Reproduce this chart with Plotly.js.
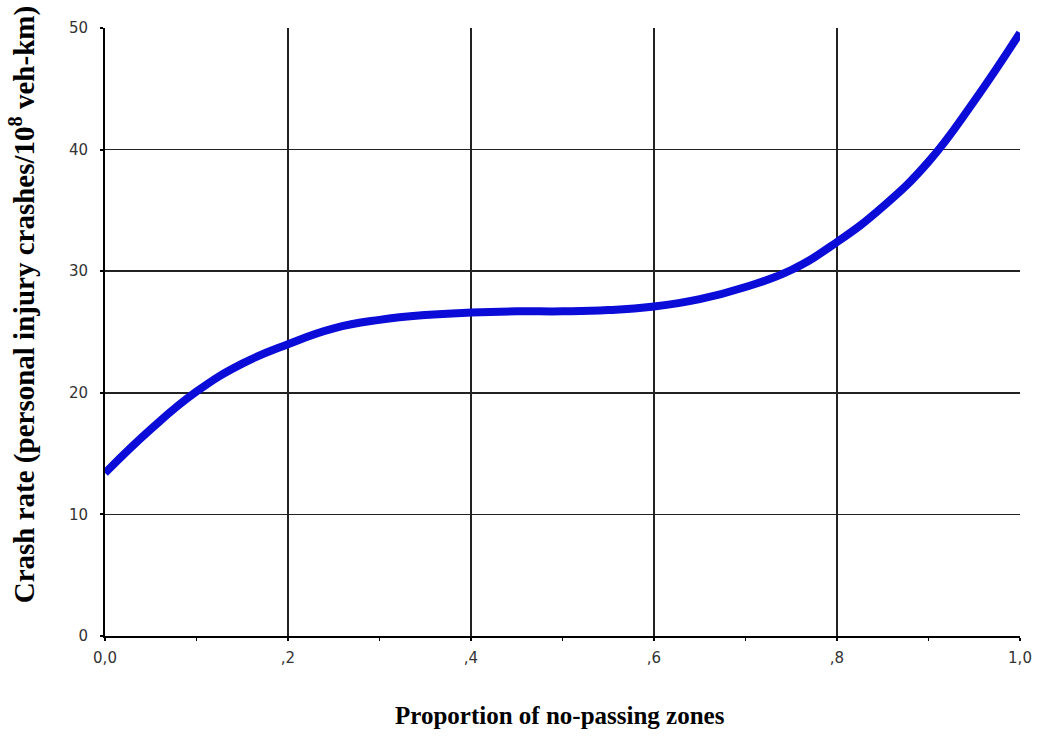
<!DOCTYPE html>
<html>
<head>
<meta charset="utf-8">
<script src="https://cdn.plot.ly/plotly-3.0.1.min.js"></script>
<style>html,body{margin:0;padding:0;background:#fff}#chart{width:1038px;height:738px}</style>
</head>
<body>
<div id="chart"></div>
<script>
// Data
const proportion = [0, 0.05, 0.1, 0.15, 0.2, 0.25, 0.3, 0.35, 0.4, 0.45, 0.5, 0.55, 0.6, 0.65, 0.7, 0.75, 0.8, 0.85, 0.9, 0.95, 1.0];
const crashRate  = [13.4, 17.0, 20.1, 22.4, 24.0, 25.3, 26.0, 26.4, 26.6, 26.7, 26.7, 26.8, 27.1, 27.7, 28.7, 30.1, 32.4, 35.3, 39.0, 44.0, 49.6];
const xTickVals = [0, 0.2, 0.4, 0.6, 0.8, 1.0];
const xTickText = ["0,0", ",2", ",4", ",6", ",8", "1,0"];
const xMinorTicks = [0.1, 0.3, 0.5, 0.7, 0.9];
const yTickVals = [0, 10, 20, 30, 40, 50];
const yGridVals = [10, 20, 30, 40];

const trace = {
  x: proportion, y: crashRate, type: 'scatter', mode: 'lines',
  line: {color: '#0c0cd8', width: 8, shape: 'spline', smoothing: 1.3},
  hoverinfo: 'skip'
};
// invisible trace to anchor the grid-only axis
const gridTrace = {x: [0, 1], y: [0, 50], yaxis: 'y2', mode: 'none', type: 'scatter', hoverinfo: 'skip', showlegend: false};

const tickFont = {family: 'DejaVu Sans', size: 15, color: '#333'};
const yTitleFont = {family: 'Liberation Serif', size: 29, color: '#000'};
const xTitleFont = {family: 'Liberation Serif', size: 25, color: '#000'};

const layout = {
  width: 1038, height: 738,
  margin: {l: 105, r: 18, t: 28, b: 102},
  paper_bgcolor: '#fff', plot_bgcolor: '#fff',
  showlegend: false,
  xaxis: {
    range: [0, 1], tickvals: xTickVals, ticktext: xTickText,
    showgrid: true, gridcolor: '#222', gridwidth: 1.5,
    showline: true, linecolor: '#000', linewidth: 2,
    ticks: 'outside', ticklen: 3, tickwidth: 2, tickcolor: '#000',
    minor: {tickvals: xMinorTicks, ticks: 'outside', ticklen: 3, tickcolor: '#000', tickwidth: 1, showgrid: false},
    ticklabelstandoff: 4,
    tickfont: tickFont, zeroline: false, fixedrange: true
  },
  yaxis: {
    range: [0, 50], tickvals: yTickVals,
    showgrid: false,
    showline: true, linecolor: '#000', linewidth: 2,
    ticks: 'outside', ticklen: 3, tickwidth: 2, tickcolor: '#000',
    ticklabelstandoff: 9,
    tickfont: tickFont, zeroline: false, fixedrange: true
  },
  yaxis2: {
    range: [0, 50], tickvals: yGridVals, overlaying: 'y',
    showgrid: true, gridcolor: '#222', gridwidth: 1.5,
    showticklabels: false, ticks: '', showline: false, zeroline: false, fixedrange: true
  },
  annotations: [
    {text: '<b>Crash rate (personal injury crashes/10<sup>8</sup> veh-km)</b>', textangle: -90,
     xref: 'paper', yref: 'paper', x: -0.0907, y: 0.544, xanchor: 'center', yanchor: 'middle',
     showarrow: false, font: yTitleFont},
    {text: '<b>Proportion of no-passing zones</b>',
     xref: 'paper', yref: 'paper', x: 0.497, y: -0.13, xanchor: 'center', yanchor: 'middle',
     showarrow: false, font: xTitleFont}
  ]
};

Plotly.newPlot('chart', [gridTrace, trace], layout, {displayModeBar: false, staticPlot: true});
</script>
</body>
</html>
